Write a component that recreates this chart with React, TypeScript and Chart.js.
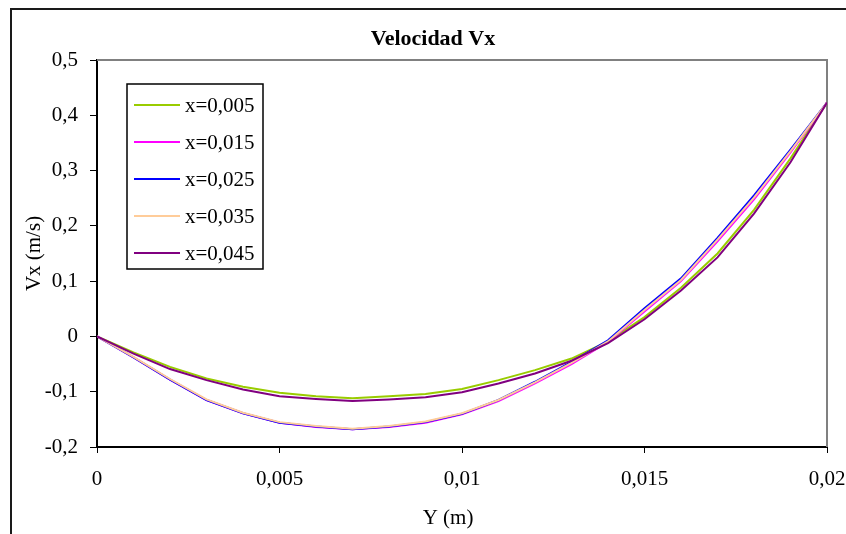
import React, { useEffect, useRef } from "react";
import { Chart, registerables } from "chart.js";
Chart.register(...registerables);

const positionsY = [0, 0.001, 0.002, 0.003, 0.004, 0.005, 0.006, 0.007, 0.008, 0.009, 0.01, 0.011, 0.012, 0.013, 0.014, 0.015, 0.016, 0.017, 0.018, 0.019, 0.02];

const vx005 = [0, -0.029, -0.055, -0.076, -0.091, -0.102, -0.108, -0.112, -0.108, -0.104, -0.095, -0.079, -0.061, -0.040, -0.009, 0.035, 0.088, 0.150, 0.229, 0.322, 0.423];
const vx015 = [0, -0.038, -0.078, -0.115, -0.139, -0.156, -0.164, -0.168, -0.164, -0.156, -0.141, -0.117, -0.085, -0.050, -0.010, 0.045, 0.100, 0.172, 0.248, 0.333, 0.423];
const vx025 = [0, -0.038, -0.078, -0.115, -0.139, -0.156, -0.163, -0.168, -0.163, -0.155, -0.140, -0.115, -0.082, -0.046, -0.007, 0.051, 0.105, 0.178, 0.255, 0.338, 0.423];
const vx035 = [0, -0.037, -0.077, -0.114, -0.138, -0.155, -0.162, -0.167, -0.162, -0.154, -0.139, -0.115, -0.083, -0.048, -0.009, 0.048, 0.102, 0.175, 0.251, 0.335, 0.423];
const vx045 = [0, -0.031, -0.059, -0.079, -0.096, -0.108, -0.113, -0.117, -0.114, -0.110, -0.101, -0.085, -0.067, -0.044, -0.012, 0.031, 0.083, 0.143, 0.222, 0.315, 0.423];

const seriesLabels = ["x=0,005", "x=0,015", "x=0,025", "x=0,035", "x=0,045"];
const seriesColors = ["#99CC00", "#FF00FF", "#0000FF", "#FFCC99", "#800080"];
const seriesValues = [vx005, vx015, vx025, vx035, vx045];
const seriesOrder = [4, 3, 2, 1, 0];

const chartTitle = "Velocidad Vx";
const xTitle = "Y (m)";
const yTitle = "Vx (m/s)";

const FONT = "'Liberation Serif', 'Times New Roman', serif";

const fmt = (v: number, p: number) => {
  const r = Math.round(v * p) / p;
  return r === 0 ? "0" : String(r).replace(".", ",");
};

export default function App() {
  const ref = useRef<HTMLCanvasElement>(null);
  useEffect(() => {
    const canvas = ref.current!;
    const plugin = {
      id: "excelDecor",
      beforeDraw(chart: any) {
        const c = chart.ctx;
        c.save();
        c.fillStyle = "#fff";
        c.fillRect(0, 0, chart.width, chart.height);
        c.fillStyle = "#1a1a1a";
        c.fillRect(10, 8, 2, chart.height - 8);
        c.fillRect(10, 8, chart.width - 10, 2);
        c.restore();
      },
      beforeDatasetsDraw(chart: any) {
        const { left, top, right, bottom } = chart.chartArea;
        const c = chart.ctx;
        c.save();
        c.strokeStyle = "#808080";
        c.lineWidth = 2;
        c.beginPath();
        c.moveTo(left, top);
        c.lineTo(right, top);
        c.lineTo(right, bottom);
        c.stroke();
        c.restore();
      },
      afterDatasetsDraw(chart: any) {
        const { left, top, bottom } = chart.chartArea;
        const c = chart.ctx;
        c.save();
        // legend box
        const bx = left + 30, by = top + 24, bw = 136, bh = 185;
        c.fillStyle = "#fff";
        c.fillRect(bx, by, bw, bh);
        c.strokeStyle = "#000";
        c.lineWidth = 1.5;
        c.strokeRect(bx, by, bw, bh);
        c.font = `21px ${FONT}`;
        c.textBaseline = "middle";
        c.textAlign = "left";
        chart.data.datasets.forEach((ds: any, i: number) => {
          const y = by + 21 + i * 37;
          c.strokeStyle = ds.borderColor;
          c.lineWidth = 2;
          c.beginPath();
          c.moveTo(bx + 7, y);
          c.lineTo(bx + 53, y);
          c.stroke();
          c.fillStyle = "#000";
          c.fillText(ds.label, bx + 58, y + 1);
        });
        // titles
        c.fillStyle = "#000";
        c.textAlign = "center";
        c.font = `bold 22px ${FONT}`;
        c.fillText(chartTitle, 433, 39);
        c.font = `21px ${FONT}`;
        c.fillText(xTitle, 448, 518);
        c.translate(34, (top + bottom) / 2);
        c.rotate(-Math.PI / 2);
        c.fillText(yTitle, 0, 0);
        c.restore();
      },
    };

    const chart = new Chart(canvas, {
      type: "line",
      data: {
        labels: positionsY,
        datasets: seriesLabels.map((label, i) => ({
          label,
          data: positionsY.map((x, j) => ({ x, y: seriesValues[i][j] })),
          borderColor: seriesColors[i],
          backgroundColor: seriesColors[i],
          borderWidth: 2,
          pointRadius: 0,
          fill: false,
          tension: 0,
          order: seriesOrder[i],
        })),
      },
      options: {
        animation: false,
        responsive: false,
        devicePixelRatio: 1,
        layout: { padding: { top: 60, right: 19, left: 0, bottom: 0 } },
        plugins: { legend: { display: false }, title: { display: false }, tooltip: { enabled: false } },
        scales: {
          x: {
            type: "linear",
            min: 0,
            max: 0.02,
            ticks: {
              stepSize: 0.005,
              callback: (v: any) => fmt(Number(v), 100000),
              font: { family: FONT, size: 21 },
              color: "#000",
              padding: 14,
              maxRotation: 0,
              autoSkip: false,
            },
            grid: { display: true, drawOnChartArea: false, drawTicks: true, tickLength: 6, color: "#000", lineWidth: 1 },
            border: { display: true, color: "#000", width: 2 },
            afterFit: (s: any) => {
              s.height = 87;
              s.paddingLeft = 0;
              s.paddingRight = 0;
            },
          },
          y: {
            type: "linear",
            min: -0.2,
            max: 0.5,
            ticks: {
              stepSize: 0.1,
              callback: (v: any) => fmt(Number(v), 1000),
              font: { family: FONT, size: 21 },
              color: "#000",
              padding: 12,
            },
            grid: { display: true, drawOnChartArea: false, drawTicks: true, tickLength: 7, color: "#000", lineWidth: 1 },
            border: { display: true, color: "#000", width: 2 },
            afterFit: (s: any) => {
              s.width = 97;
              s.paddingTop = 0;
              s.paddingBottom = 0;
            },
          },
        },
      },
      plugins: [plugin],
    } as any);
    return () => chart.destroy();
  }, []);
  return (
    <div style={{ position: "fixed", left: 0, top: 0, width: 846, height: 534, background: "#fff" }}>
      <canvas ref={ref} width={846} height={534} style={{ width: 846, height: 534, display: "block" }} />
    </div>
  );
}
